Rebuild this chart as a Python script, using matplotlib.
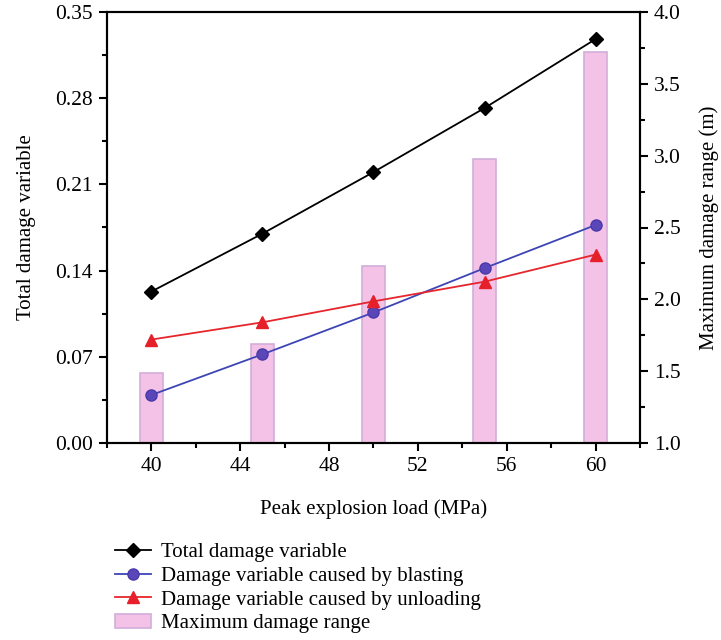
import matplotlib
matplotlib.use("Agg")
import matplotlib.pyplot as plt
from matplotlib.ticker import MultipleLocator, FormatStrFormatter

load = [40, 45, 50, 55, 60]
total = [0.123, 0.170, 0.220, 0.272, 0.328]
blasting = [0.039, 0.072, 0.106, 0.142, 0.177]
unloading = [0.084, 0.098, 0.115, 0.131, 0.153]
max_range = [1.49, 1.69, 2.23, 2.98, 3.72]

plt.rcParams['font.family'] = ['Liberation Serif', 'DejaVu Serif']
fs_tick = 15.5
fs = 15

fig = plt.figure(figsize=(7.21, 6.40), dpi=100)
ax = fig.add_axes([107/721, 1-443/640, (640-107)/721, (443-12)/640])
ax2 = ax.twinx()

ax2.bar(load, max_range, width=1.0, bottom=0, color='#F4C2E6', edgecolor='#D2AEDB', linewidth=1.2,
        label='Maximum damage range')
ax2.set_ylim(1.0, 4.0)

l1, = ax.plot(load, total, color='black', marker='D', markersize=7.5, linewidth=1.3,
              label='Total damage variable')
l2, = ax.plot(load, blasting, color='#3D45B5', marker='o', markersize=8, markerfacecolor='#5A46B8',
              markeredgecolor='#4A3AA8', linewidth=1.3, label='Damage variable caused by blasting')
l3, = ax.plot(load, unloading, color='#E5262C', marker='^', markersize=9, markerfacecolor='#E5202A',
              markeredgecolor='#E5202A', linewidth=1.3, label='Damage variable caused by unloading')

ax.set_zorder(ax2.get_zorder() + 1)
ax.patch.set_visible(False)

ax.set_xlim(38, 62)
ax.set_ylim(0, 0.35)
ax.xaxis.set_major_locator(MultipleLocator(4))
ax.xaxis.set_minor_locator(MultipleLocator(2))
ax.yaxis.set_major_locator(MultipleLocator(0.07))
ax.yaxis.set_minor_locator(MultipleLocator(0.035))
ax.yaxis.set_major_formatter(FormatStrFormatter('%.2f'))
ax2.yaxis.set_major_locator(MultipleLocator(0.5))
ax2.yaxis.set_minor_locator(MultipleLocator(0.25))
ax2.yaxis.set_major_formatter(FormatStrFormatter('%.1f'))

for a in (ax, ax2):
    for s in a.spines.values():
        s.set_linewidth(1.5)
    a.tick_params(which='major', direction='out', length=6, width=1.5, labelsize=fs_tick, pad=4)
    a.tick_params(which='minor', direction='out', length=3.5, width=1.5)
ax.tick_params(axis='x', which='both', top=False)
ax.tick_params(axis='y', which='both', right=False)
ax2.tick_params(axis='x', which='both', top=False, bottom=False)

ax.set_xlabel('Peak explosion load (MPa)', fontsize=fs, labelpad=17)
ax.set_ylabel('Total damage variable', fontsize=fs, labelpad=14)
ax2.set_ylabel('Maximum damage range (m)', fontsize=fs, labelpad=13)

bars = ax2.patches[0]
fig.legend([l1, l2, l3, bars],
           ['Total damage variable', 'Damage variable caused by blasting',
            'Damage variable caused by unloading', 'Maximum damage range'],
           loc='upper left', bbox_to_anchor=(100/721, 1-528/640), frameon=False,
           fontsize=fs, handlelength=1.75, handletextpad=0.5, labelspacing=0.2,
           borderpad=0.2)

fig.savefig('out.png', dpi=100)
